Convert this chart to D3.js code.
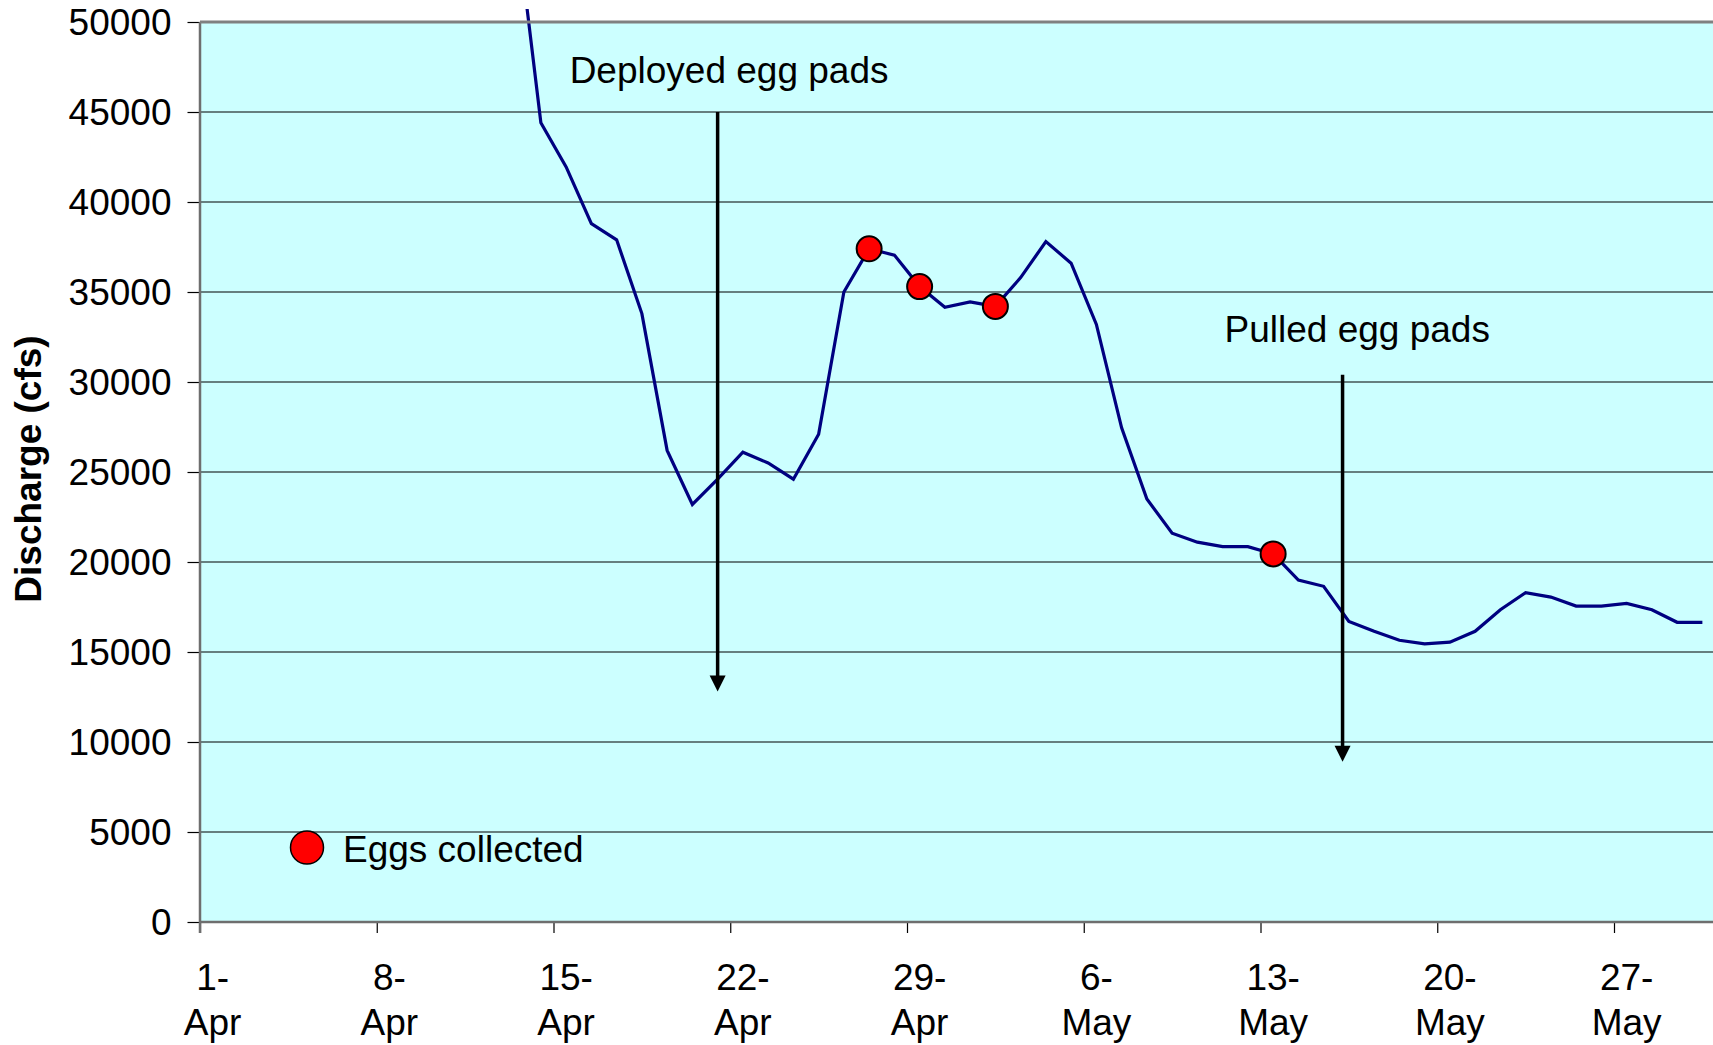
<!DOCTYPE html>
<html>
<head>
<meta charset="utf-8">
<script src="https://cdn.jsdelivr.net/npm/d3@7.9.0/dist/d3.min.js"></script>
<style>
  html, body { margin: 0; padding: 0; background: #fff; }
  svg { display: block; font-family: "Liberation Sans", Arial, sans-serif; }
</style>
</head>
<body>
<svg id="chart" width="1713" height="1045"></svg>
<script>
// ------------------- Data -------------------
const axisStart = '2007-04-01';
const axisEnd = '2007-05-31';
const tickDates = ['2007-04-01', '2007-04-08', '2007-04-15', '2007-04-22', '2007-04-29',
  '2007-05-06', '2007-05-13', '2007-05-20', '2007-05-27'];
const yTicks = [0, 5000, 10000, 15000, 20000, 25000, 30000, 35000, 40000, 45000, 50000];

// daily discharge (cfs), first value is 13-Apr
const flowStart = '2007-04-13';
const discharge = [56000, 44400, 41950, 38800, 37900, 33800, 26200, 23200, 24600, 26100,
  25500, 24600, 27100, 35000, 37400, 37050, 35300, 34150, 34450, 34200,
  35800, 37800, 36600, 33200, 27450, 23500, 21600, 21100, 20850, 20850,
  20450, 19000, 18650, 16700, 16150, 15650, 15450, 15550, 16150, 17350,
  18300, 18050, 17550, 17550, 17700, 17350, 16650, 16650];

const eggDates = ['2007-04-27', '2007-04-29', '2007-05-02', '2007-05-13'];

const notes = [
  { label: 'Deployed egg pads', date: '2007-04-21T12:00', from: 45000, to: 12800 },
  { label: 'Pulled egg pads', date: '2007-05-16T06:00', from: 30400, to: 8900 }
];

// ------------------- Setup -------------------
const parse = s => new Date(s + (s.length > 10 ? ':00Z' : 'T00:00:00Z'));
const mid = d => d3.utcHour.offset(d, 12);

const plot = { left: 200, right: 1715, top: 22, bottom: 922 };
const svg = d3.select('#chart');

const x = d3.scaleUtc()
  .domain([parse(axisStart), parse(axisEnd)])
  .range([plot.left, plot.right]);

const y = d3.scaleLinear()
  .domain([0, 50000])
  .range([plot.bottom, plot.top]);

const flow = discharge.map((v, i) => ({ date: d3.utcDay.offset(parse(flowStart), i), value: v }));
const eggs = eggDates.map(s => flow.find(d => +d.date === +parse(s)));

// plot background
svg.append('rect')
  .attr('x', plot.left).attr('y', plot.top)
  .attr('width', plot.right - plot.left).attr('height', plot.bottom - plot.top)
  .attr('fill', '#CCFFFF');

// gridlines
svg.append('g')
  .selectAll('line')
  .data(yTicks.filter(t => t > 0 && t < 50000))
  .join('line')
  .attr('x1', plot.left).attr('x2', plot.right)
  .attr('y1', d => y(d)).attr('y2', d => y(d))
  .attr('stroke', '#000').attr('stroke-width', 1.2);

// clip so the line can rise slightly above the plot top, as in the original
svg.append('clipPath').attr('id', 'clip')
  .append('rect').attr('x', plot.left).attr('y', 9)
  .attr('width', plot.right - plot.left).attr('height', plot.bottom - 9);

// ------------------- Discharge line -------------------
const line = d3.line()
  .x(d => x(mid(d.date)))
  .y(d => y(d.value));

svg.append('path')
  .datum(flow)
  .attr('clip-path', 'url(#clip)')
  .attr('d', line)
  .attr('fill', 'none')
  .attr('stroke', '#000080')
  .attr('stroke-width', 3.2)
  .attr('stroke-linejoin', 'miter');

// egg markers
svg.append('g')
  .selectAll('circle')
  .data(eggs)
  .join('circle')
  .attr('cx', d => x(mid(d.date)))
  .attr('cy', d => y(d.value))
  .attr('r', 12.5)
  .attr('fill', '#FF0000')
  .attr('stroke', '#000')
  .attr('stroke-width', 2);

// ------------------- Arrows -------------------
const arrows = svg.append('g');
notes.forEach((n, i) => {
  const ax = x(parse(n.date));
  const y0 = y(n.from), y1 = y(n.to);
  arrows.append('line')
    .attr('x1', ax).attr('x2', ax)
    .attr('y1', y0).attr('y2', y1 - 12)
    .attr('stroke', '#000').attr('stroke-width', 3.5);
  arrows.append('path')
    .attr('d', `M${ax - 8},${y1 - 16} L${ax + 8},${y1 - 16} L${ax},${y1} Z`)
    .attr('fill', '#000');
  arrows.append('text')
    .attr('x', i === 0 ? ax - 148 : ax - 118)
    .attr('y', i === 0 ? y0 - 29 : y0 - 33)
    .attr('font-size', 37)
    .attr('fill', '#000')
    .text(n.label);
});

// ------------------- Axes -------------------
const yAxis = svg.append('g')
  .attr('transform', `translate(${plot.left},0)`)
  .call(d3.axisLeft(y).tickValues(yTicks).tickSize(12.5).tickPadding(16).tickFormat(d3.format('d')));
yAxis.select('.domain').remove();
yAxis.selectAll('.tick line').attr('stroke', '#000').attr('stroke-width', 1.2);
yAxis.selectAll('.tick text')
  .attr('font-size', 37).attr('font-family', '"Liberation Sans", Arial, sans-serif')
  .attr('fill', '#000').attr('dy', '0.35em');

const xAxis = svg.append('g')
  .attr('transform', `translate(0,${plot.bottom})`)
  .call(d3.axisBottom(x).tickValues(tickDates.map(parse)).tickSize(11).tickFormat(''));
xAxis.select('.domain').remove();
xAxis.selectAll('.tick line').attr('stroke', '#000').attr('stroke-width', 1.2);

const xLabels = svg.append('g')
  .selectAll('text')
  .data(tickDates.map(parse))
  .join('text')
  .attr('text-anchor', 'middle')
  .attr('font-size', 37)
  .attr('fill', '#000')
  .attr('transform', d => `translate(${x(mid(d))},0)`);
xLabels.append('tspan').attr('x', 0).attr('y', 990).text(d3.utcFormat('%-d-'));
xLabels.append('tspan').attr('x', 0).attr('y', 1035).text(d3.utcFormat('%b'));

// plot frame lines (left axis, bottom axis, top border)
svg.append('line')
  .attr('x1', plot.left).attr('x2', plot.left)
  .attr('y1', plot.top).attr('y2', plot.bottom + 11)
  .attr('stroke', '#6e6e6e').attr('stroke-width', 2.5);
svg.append('line')
  .attr('x1', plot.left).attr('x2', plot.right)
  .attr('y1', plot.bottom).attr('y2', plot.bottom)
  .attr('stroke', '#6e6e6e').attr('stroke-width', 2.5);
svg.append('line')
  .attr('x1', plot.left).attr('x2', plot.right)
  .attr('y1', plot.top).attr('y2', plot.top)
  .attr('stroke', '#808080').attr('stroke-width', 3);

// y title
svg.append('text')
  .attr('transform', `translate(41,${(plot.top + plot.bottom) / 2 - 3}) rotate(-90)`)
  .attr('text-anchor', 'middle')
  .attr('font-size', 37)
  .attr('font-weight', 'bold')
  .attr('fill', '#000')
  .text('Discharge (cfs)');

// ------------------- Legend -------------------
const legend = svg.append('g').attr('transform', 'translate(307,847.5)');
legend.append('circle')
  .attr('r', 16.5)
  .attr('fill', '#FF0000')
  .attr('stroke', '#000')
  .attr('stroke-width', 1.5);
legend.append('text')
  .attr('x', 36).attr('y', 14)
  .attr('font-size', 37)
  .attr('fill', '#000')
  .text('Eggs collected');
</script>
</body>
</html>
